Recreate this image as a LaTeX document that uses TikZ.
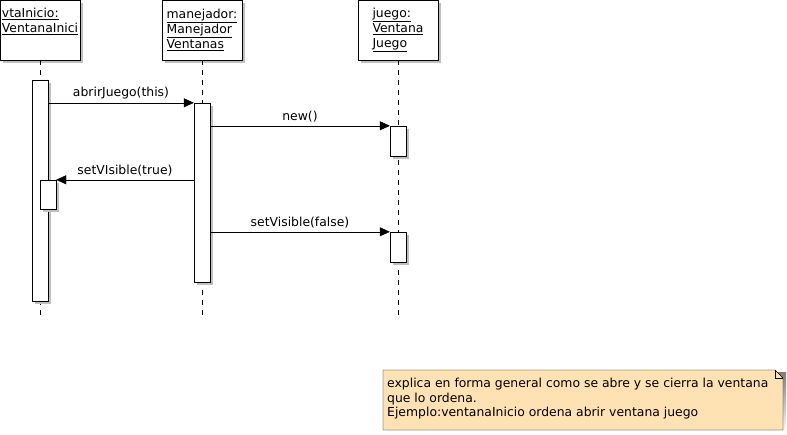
\documentclass[tikz,border=0pt]{standalone}
\usepackage{fontspec}
\setmainfont{DejaVu Sans}
\usetikzlibrary{arrows.meta,shadows}
\definecolor{notefill}{RGB}{255,226,180}
\definecolor{shade}{RGB}{192,192,192}

\begin{document}
\begin{tikzpicture}[x=1pt,y=-1pt,font=\fontsize{12.4}{15}\selectfont,
    shadowed/.style={copy shadow={shadow xshift=3pt,shadow yshift=-3pt,fill=shade,draw=none}},
    msg/.style={draw,-{Triangle[length=10pt,width=9pt]}},
    life/.style={draw,dash pattern=on 5pt off 5pt}]

        \useasboundingbox (0,0) rectangle (787,435);

        % objects
        \begin{scope}[every node/.style={rectangle,draw,fill=white,shadowed,inner sep=0pt,
            minimum width=80pt,minimum height=60pt,align=left}]
          \node (vta)  at (40,30)  {\underline{vtaInicio:}\\\underline{VentanaInici}\\\strut};
          \node (mgr)  at (202,30) {\underline{manejador:}\\\underline{Manejador}\\\underline{Ventanas}};
          \node (jgo)  at (398,30) {\underline{juego:}\\\underline{Ventana}\\\underline{Juego}};
        \end{scope}

        \coordinate (vta-end) at (40,320);
        \coordinate (mgr-end) at (202,320);
        \coordinate (jgo-end) at (398,320);

        \path[life] (vta) -- (vta-end);
        \path[life] (mgr) -- (mgr-end);
        \path[life] (jgo) -- (jgo-end);

        % activations
        \begin{scope}[every node/.style={rectangle,draw,fill=white,shadowed,inner sep=0pt,
            minimum width=16pt}]
          \node[minimum height=221pt] (act1)  at (40,190.5)  {};
          \node[minimum height=179pt] (act2)  at (202,192.5) {};
          \node[minimum height=30pt]  (act3a) at (398,141)   {};
          \node[minimum height=29pt]  (act1b) at (48,194.5)  {};
          \node[minimum height=30pt]  (act3b) at (398,247)   {};
        \end{scope}

        % messages
        \begin{scope}[every node/.style={above=0pt,midway}]
          \path[msg] (act1.east |- act2.north)  -- (act2.north west)  node {abrirJuego(this)};
          \path[msg] (act2.east |- act3a.north) -- (act3a.north west) node {new()};
          \path[msg] (act2.west |- act1b.north) -- (act1b.north east) node {setVIsible(true)};
          \path[msg] (act2.east |- act3b.north) -- (act3b.north west) node {setVisible(false)};
        \end{scope}

        % note
        \fill[shade] (386,373) -- (786,373) -- (786,433) -- (386,433) -- cycle;
        \filldraw[fill=notefill] (383,370) -- (775,370) -- (783,378) -- (783,430) -- (383,430) -- cycle;
        \draw (775,370) -- (775,378) -- (783,378);
        \node[anchor=north west,inner sep=0pt,align=left,font=\fontsize{12.4}{14.5}\selectfont] (note) at (387,378)
          {explica en forma general como se abre y se cierra la ventana\\que lo ordena.\\Ejemplo:ventanaInicio ordena abrir ventana juego};

      \end{tikzpicture}
\end{document}
